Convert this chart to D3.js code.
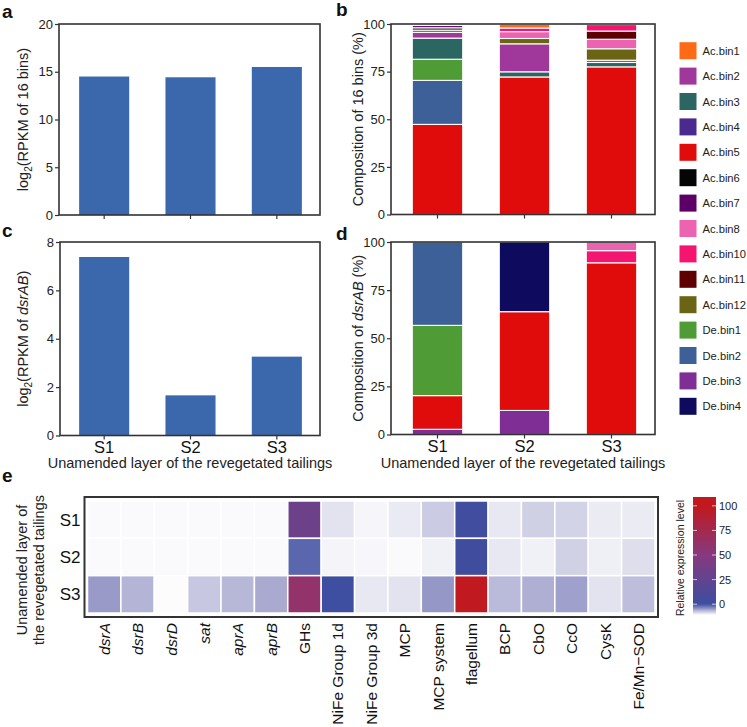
<!DOCTYPE html>
<html><head><meta charset="utf-8">
<script src="https://cdn.jsdelivr.net/npm/d3@7"></script>
<style>
html,body{margin:0;padding:0;background:#fff;}
svg{display:block;font-family:"Liberation Sans",Arial,Helvetica,sans-serif;}
</style></head>
<body><svg id="chart" width="747" height="727"></svg>
<script>
// ---------------- DATA ----------------
const samples = ["S1", "S2", "S3"];
const rpkmBins = [14.5, 14.42, 15.5];
const rpkmDsrAB = [7.38, 1.66, 3.26];
const ticksA = [0, 5, 10, 15, 20];
const ticksC = [0, 2, 4, 6, 8];
const ticksPct = [0, 25, 50, 75, 100];

const binNames = ["Ac.bin1","Ac.bin2","Ac.bin3","Ac.bin4","Ac.bin5","Ac.bin6","Ac.bin7","Ac.bin8","Ac.bin10","Ac.bin11","Ac.bin12","De.bin1","De.bin2","De.bin3","De.bin4"];
const binColors = ["#ff6a17","#a0379b","#2c6662","#4a2a8e","#e00b0b","#050505","#5c0068","#ec63b2","#f5146f","#5e0002","#6a6414","#4f9c37","#3c6097","#7e2e95","#0e0b5e"];

// composition of 16 bins (%), in binNames order
const compBinsS1 = [0, 3.0, 11.1, 0, 47.3, 1.2, 1.2, 0, 0, 0, 1.2, 11.1, 23.1, 0, 0];
const compBinsS2 = [2.0, 14.7, 2.7, 0, 72.2, 0, 0, 3.6, 1.9, 0, 2.8, 0, 0, 0, 0];
const compBinsS3 = [0, 1.2, 2.3, 0, 77.5, 0, 0, 5.0, 3.4, 4.3, 6.0, 0, 0, 0, 0];
const stackOrderB = ["Ac.bin5","De.bin2","De.bin1","Ac.bin3","Ac.bin2","Ac.bin12","Ac.bin6","Ac.bin7","Ac.bin4","Ac.bin8","Ac.bin11","Ac.bin10","Ac.bin1","De.bin3","De.bin4"];

// composition of dsrAB (%), in binNames order
const compDsrS1 = [0, 0, 0, 0, 17.5, 0, 0, 0, 0, 0, 0, 36.5, 43.3, 2.7, 0];
const compDsrS2 = [0, 0, 0, 0, 51.3, 0, 0, 0, 0, 0, 0, 0, 0, 12.5, 36.2];
const compDsrS3 = [0, 0, 0, 0, 89.2, 0, 0, 4.5, 6.3, 0, 0, 0, 0, 0, 0];
const stackOrderD = ["De.bin3","Ac.bin5","De.bin1","De.bin2","De.bin4","Ac.bin10","Ac.bin8","Ac.bin1","Ac.bin2","Ac.bin3","Ac.bin4","Ac.bin6","Ac.bin7","Ac.bin11","Ac.bin12"];

// heatmap
const heatGenes = ["dsrA","dsrB","dsrD","sat","aprA","aprB","GHs","NiFe Group 1d","NiFe Group 3d","MCP","MCP system","flagellum","BCP","CbO","CcO","CysK","Fe/Mn\u2212SOD"];
const italicGenes = ["dsrA","dsrB","dsrD","sat","aprA","aprB"];
const heatS1 = [-10.7,-10.7,-10.7,-10.7,-10.7,-10.7, 33, -9.3,-10.4,-9.7,-7.8, 3, -9.6,-8.1,-8.3,-9.8,-9.8];
const heatS2 = [-10.7,-10.7,-10.7,-10.7,-10.7,-10.7, -1.5, -10.3,-10.5,-10.7,-10.1, 2, -9.6,-10.1,-8.2,-10.0,-9.0];
const heatS3 = [-4.8,-6.4,-10.8,-7.6,-6.6,-5.8, 60, 0.5,-9.6,-9.3,-4.6, 100, -6.8,-6.1,-5.2,-9.3,-7.0];
const colorbarTicks = [0, 25, 50, 75, 100];

// ---------------- DRAW ----------------
const svg = d3.select("#chart");
svg.append("rect").attr("width",747).attr("height",727).attr("fill","#fff");
const FRAME = "#333";
const BAR = "#3b68ad";

function panelLetter(t, x, y){
  svg.append("text").attr("x",x).attr("y",y).attr("font-size",19).attr("font-weight","bold").attr("fill","#111").text(t);
}

function frameAndAxes(x, y, L, R, T, B, ticks, showXLabels){
  const ga = svg.append("g").attr("transform",`translate(${L},0)`)
    .call(d3.axisLeft(y).tickValues(ticks).tickSize(4).tickPadding(2).tickFormat(d3.format("d")));
  ga.select(".domain").remove();
  ga.selectAll("line").attr("stroke",FRAME).attr("stroke-width",1.2);
  ga.selectAll("text").attr("font-size",13).attr("fill","#222").attr("font-family",null);
  const gx = svg.append("g").attr("transform",`translate(0,${B})`)
    .call(d3.axisBottom(x).tickSize(4).tickPadding(2));
  gx.select(".domain").remove();
  gx.selectAll("line").attr("stroke",FRAME).attr("stroke-width",1.2);
  if(showXLabels) gx.selectAll("text").attr("font-size",16.5).attr("fill","#111").attr("font-family",null);
  else gx.selectAll("text").remove();
  svg.append("rect").attr("x",L).attr("y",T).attr("width",R-L).attr("height",B-T)
    .attr("fill","none").attr("stroke",FRAME).attr("stroke-width",1.6);
}

function yTitle(cx, cy, parts){
  const t = svg.append("text").attr("transform",`translate(${cx},${cy}) rotate(-90)`)
    .attr("text-anchor","middle").attr("font-size",14.5).attr("fill","#222");
  parts.forEach(p=>{
    const s = t.append("tspan").text(p.t);
    if(p.i) s.attr("font-style","italic");
    if(p.sub) s.attr("font-size",10).attr("dy",4);
    if(p.up) s.attr("dy",-4);
  });
}

// Panel a
(function(){
  const L=59,R=320,T=24,B=215;
  const x = d3.scaleBand().domain(samples).range([L+2,R]).paddingInner(0.42).paddingOuter(0.21);
  const y = d3.scaleLinear().domain([0,20]).range([B,T]);
  svg.append("g").selectAll("rect").data(samples).join("rect")
    .attr("x",d=>x(d)).attr("width",x.bandwidth())
    .attr("y",(d,i)=>y(rpkmBins[i])).attr("height",(d,i)=>B-y(rpkmBins[i])).attr("fill",BAR);
  frameAndAxes(x,y,L,R,T,B,ticksA,false);
  yTitle(28,(T+B)/2,[{t:"log"},{t:"2",sub:true},{t:"(RPKM of 16 bins)",up:true}]);
  panelLetter("a",2,18);
})();

// Panel c
(function(){
  const L=60,R=320,T=242,B=435.5;
  const x = d3.scaleBand().domain(samples).range([L+1,R]).paddingInner(0.42).paddingOuter(0.21);
  const y = d3.scaleLinear().domain([0,8]).range([B,T]);
  svg.append("g").selectAll("rect").data(samples).join("rect")
    .attr("x",d=>x(d)).attr("width",x.bandwidth())
    .attr("y",(d,i)=>y(rpkmDsrAB[i])).attr("height",(d,i)=>B-y(rpkmDsrAB[i])).attr("fill",BAR);
  frameAndAxes(x,y,L,R,T,B,ticksC,true);
  yTitle(28,(T+B)/2,[{t:"log"},{t:"2",sub:true},{t:"(RPKM of ",up:true},{t:"dsrAB",i:true},{t:")"}]);
  svg.append("text").attr("x",(L+R)/2).attr("y",468).attr("text-anchor","middle").attr("font-size",14.5).attr("fill","#222")
    .text("Unamended layer of the revegetated tailings");
  panelLetter("c",2,237);
})();

// stacked panels
function stackedPanel(L,R,T,B,rowsArr,order,showX){
  const x = d3.scaleBand().domain(samples).range([L+3,R]).paddingInner(0.42).paddingOuter(0.21);
  const y = d3.scaleLinear().domain([0,100]).range([B,T]);
  const table = samples.map((s,i)=>{
    const o = {sample:s};
    binNames.forEach((b,j)=>o[b]=rowsArr[i][j]);
    return o;
  });
  const series = d3.stack().keys(order)(table);
  const color = d3.scaleOrdinal().domain(binNames).range(binColors);
  svg.append("g").selectAll("g").data(series).join("g").attr("fill",d=>color(d.key))
    .selectAll("rect").data(d=>d.filter(v=>v[1]-v[0]>0)).join("rect")
    .attr("x",d=>x(d.data.sample)).attr("width",x.bandwidth())
    .attr("y",d=>y(d[1])).attr("height",d=>y(d[0])-y(d[1]))
    .attr("stroke","#fff").attr("stroke-width",1.1);
  frameAndAxes(x,y,L,R,T,B,ticksPct,showX);
}

// Panel b
stackedPanel(391,655,24,214.5,[compBinsS1,compBinsS2,compBinsS3],stackOrderB,false);
yTitle(363,(24+214.5)/2,[{t:"Composition of 16 bins (%)"}]);
panelLetter("b",336,16);

// Panel d
stackedPanel(391,655,242,434.5,[compDsrS1,compDsrS2,compDsrS3],stackOrderD,true);
yTitle(363,(242+434.5)/2,[{t:"Composition of "},{t:"dsrAB",i:true},{t:" (%)"}]);
svg.append("text").attr("x",523).attr("y",468).attr("text-anchor","middle").attr("font-size",14.5).attr("fill","#222")
  .text("Unamended layer of the revegetated tailings");
panelLetter("d",336,240);

// Legend
(function(){
  const color = d3.scaleOrdinal().domain(binNames).range(binColors);
  const ly = d3.scalePoint().domain(binNames).range([50.7,406.3]);
  const g = svg.append("g");
  g.selectAll("rect").data(binNames).join("rect")
    .attr("x",679.5).attr("y",d=>ly(d)-8.5).attr("width",17).attr("height",17).attr("fill",d=>color(d));
  g.selectAll("text").data(binNames).join("text")
    .attr("x",702.5).attr("y",d=>ly(d)).attr("dy","0.36em").attr("font-size",11.2).attr("fill","#222").text(d=>d);
})();

// Heatmap
(function(){
  const FL=84.5, FR=658, FT=497, FB=617;
  const heatColor = d3.scaleLinear().domain([-11,-5,0,50,100,110])
    .range(["#ffffff","#9d9dca","#3d4ea0","#86397f","#c0191f","#c41820"]).clamp(true);
  const x = d3.scaleBand().domain(heatGenes).range([FL+3,FR-3]);
  const y = d3.scaleBand().domain(samples).range([FT+4,FB-4]);
  const rows = [heatS1,heatS2,heatS3];
  const cells = [];
  samples.forEach((s,i)=>heatGenes.forEach((g,j)=>cells.push({s,g,v:rows[i][j]})));
  svg.append("g").selectAll("rect").data(cells).join("rect")
    .attr("x",d=>x(d.g)).attr("y",d=>y(d.s)).attr("width",x.bandwidth()).attr("height",y.bandwidth())
    .attr("fill",d=>heatColor(d.v)).attr("stroke","#fff").attr("stroke-width",1.5);
  svg.append("rect").attr("x",FL).attr("y",FT).attr("width",FR-FL).attr("height",FB-FT)
    .attr("fill","none").attr("stroke",FRAME).attr("stroke-width",2);
  // row labels
  svg.append("g").selectAll("text").data(samples).join("text")
    .attr("x",FL-4).attr("y",d=>y(d)+y.bandwidth()/2).attr("dy","0.36em").attr("text-anchor","end")
    .attr("font-size",17).attr("fill","#111").text(d=>d);
  // column labels
  svg.append("g").selectAll("text").data(heatGenes).join("text")
    .attr("transform",d=>`translate(${x(d)+x.bandwidth()/2},${FB+6}) rotate(-90)`)
    .attr("dy","0.36em").attr("text-anchor","end").attr("font-size",15.5).attr("fill","#111")
    .attr("font-style",d=>italicGenes.includes(d)?"italic":"normal").text(d=>d);
  // y title two lines
  const yt = svg.append("text").attr("transform",`translate(27,570) rotate(-90)`)
    .attr("text-anchor","middle").attr("font-size",14.5).attr("fill","#222");
  yt.append("tspan").attr("x",0).attr("dy",0).text("Unamended layer of");
  yt.append("tspan").attr("x",0).attr("dy",17).text("the revegetated tailings");
  panelLetter("e",2,482);

  // colorbar
  const CL=693, CW=23, CT=497, CB=615;
  const cy = d3.scaleLinear().domain([-11,109]).range([CB,CT]);
  const defs = svg.append("defs");
  const grad = defs.append("linearGradient").attr("id","cbg").attr("x1",0).attr("y1",1).attr("x2",0).attr("y2",0);
  d3.range(-11,109.01,2).forEach(v=>{
    grad.append("stop").attr("offset",(v+11)/120).attr("stop-color",heatColor(v));
  });
  svg.append("rect").attr("x",CL).attr("y",CT).attr("width",CW).attr("height",CB-CT).attr("fill","url(#cbg)");
  const gc = svg.append("g");
  gc.selectAll("line.l").data(colorbarTicks).join("line")
    .attr("x1",CL).attr("x2",CL+4).attr("y1",d=>cy(d)).attr("y2",d=>cy(d)).attr("stroke","#fff").attr("stroke-width",1).attr("opacity",0.7);
  gc.selectAll("line.r").data(colorbarTicks).join("line")
    .attr("x1",CL+CW-4).attr("x2",CL+CW).attr("y1",d=>cy(d)).attr("y2",d=>cy(d)).attr("stroke","#fff").attr("stroke-width",1).attr("opacity",0.7);
  gc.selectAll("text").data(colorbarTicks).join("text")
    .attr("x",CL+CW+3).attr("y",d=>cy(d)).attr("dy","0.36em").attr("font-size",11).attr("fill","#222").text(d=>d);
  svg.append("text").attr("transform",`translate(${CL-9},${(CT+CB)/2+2}) rotate(-90)`)
    .attr("text-anchor","middle").attr("font-size",10.5).attr("fill","#222").text("Relative expression level");
})();
</script></body></html>
